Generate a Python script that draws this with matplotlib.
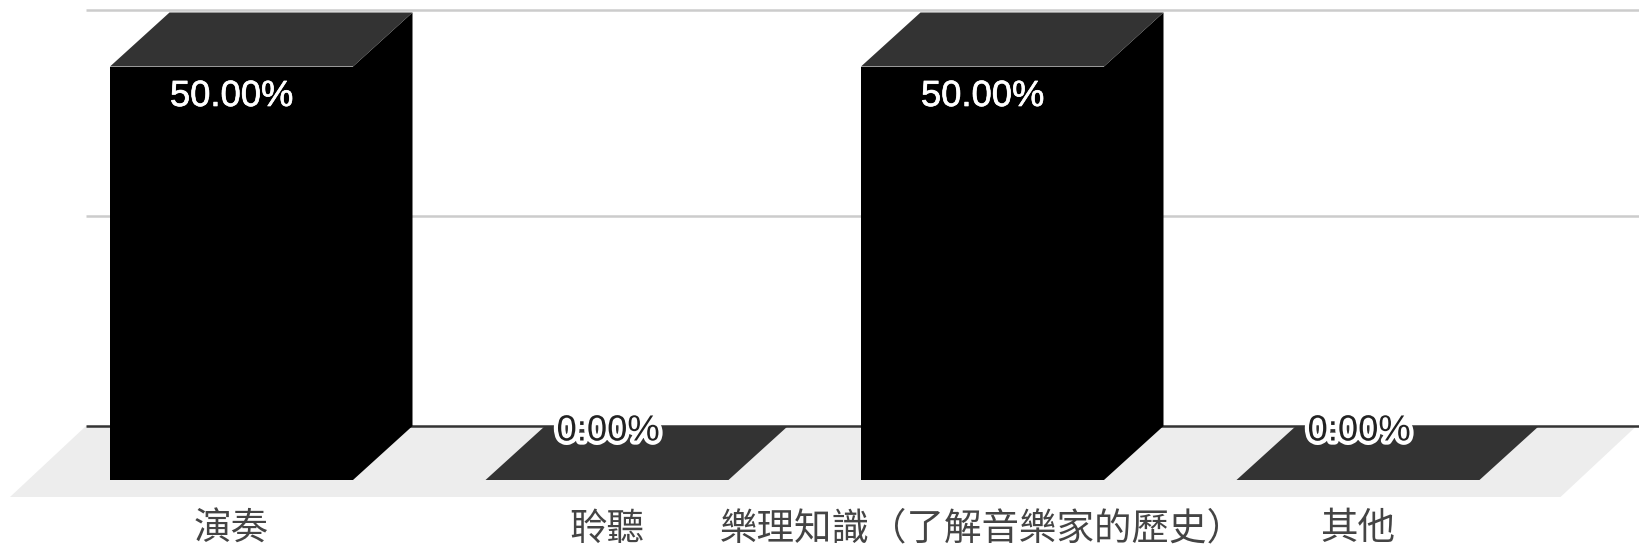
import matplotlib
matplotlib.use("Agg")
import matplotlib.pyplot as plt
import matplotlib.patheffects as pe
from matplotlib.patches import Polygon

categories = ["演奏", "聆聽", "樂理知識（了解音樂家的歷史）", "其他"]
values = [50, 0, 50, 0]
value_labels = ["50.00%", "0:00%", "50.00%", "0:00%"]
grid_values = [25.35, 50.3]

plt.rcParams["font.family"] = ["Noto Sans CJK TC", "DejaVu Sans"]

W, H = 1639, 547
fig = plt.figure(figsize=(W / 100, H / 100), dpi=100, facecolor="white")
ax = fig.add_axes([0, 0, 1, 1])

# pixels per category / per percent, everything else follows from these
px_x = 375.5
px_y = 8.27
ax.set_xlim(-231.5 / px_x, (W - 231.5) / px_x)
ax.set_ylim(-67 / px_y, (H - 67) / px_y)
ax.axis("off")

bar_w = 243 / px_x
dx = 59.5 / px_x
dy = 54 / px_y

# floor
fx0 = -0.5 * bar_w - 100 / px_x
fx1 = 3 + 0.5 * bar_w + 81 / px_x
fy0 = -17 / px_y
fdx = 76 / px_x
ax.add_patch(Polygon([(fx0, fy0), (fx1, fy0), (fx1 + fdx, dy), (fx0 + fdx, dy)],
                     facecolor="#ededed", edgecolor="none", zorder=1))

# grid and baseline
ax.plot([fx0 + fdx, ax.get_xlim()[1]], [dy, dy], color="#333333", lw=1.8, zorder=2,
        solid_capstyle="butt")
for g in grid_values:
    ax.plot([fx0 + fdx, ax.get_xlim()[1]], [g + dy, g + dy], color="#cccccc", lw=1.8,
            zorder=2, solid_capstyle="butt")

for i, (cat, val, lab) in enumerate(zip(categories, values, value_labels)):
    l = i - bar_w / 2
    r = i + bar_w / 2
    # top
    ax.add_patch(Polygon([(l, val), (r, val), (r + dx, val + dy), (l + dx, val + dy)],
                         facecolor="#333333", edgecolor="none", zorder=4))
    if val > 0:
        ax.add_patch(Polygon([(l, 0), (r, 0), (r, val), (l, val)],
                             facecolor="black", edgecolor="none", zorder=3))
        ax.add_patch(Polygon([(r, 0), (r + dx, dy), (r + dx, val + dy), (r, val)],
                             facecolor="black", edgecolor="none", zorder=3))
        ax.text(i, val - 30 / px_y, lab, color="white", fontsize=26.2, ha="center",
                va="center", family="Liberation Sans", zorder=5,
                path_effects=[pe.withStroke(linewidth=0.5, foreground="white")])
    else:
        ax.text(i + 1 / px_x, val + 49 / px_y, lab, color="#222222", fontsize=26.2, ha="center",
                va="center", family="Liberation Sans", zorder=5,
                path_effects=[pe.withStroke(linewidth=6, foreground="white")])
    ax.text(i, -49 / px_y, cat, color="#444444", fontsize=27, ha="center", va="center",
            fontweight="light", zorder=5)

fig.savefig("out.png", dpi=100)
